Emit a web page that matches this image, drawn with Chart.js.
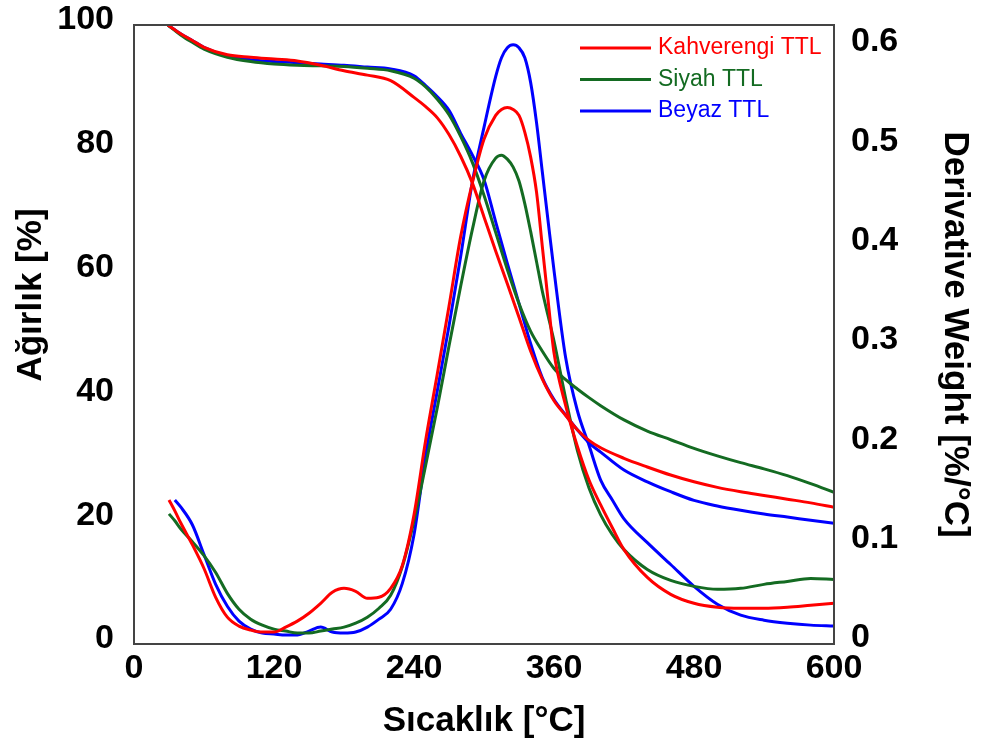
<!DOCTYPE html>
<html>
<head>
<meta charset="utf-8">
<script src="https://cdn.jsdelivr.net/npm/chart.js@4.4.1/dist/chart.umd.min.js"></script>
<style>
  html, body { margin: 0; padding: 0; background: #fff; }
  #wrap { width: 984px; height: 746px; }
</style>
</head>
<body>
<div id="wrap"><canvas id="grafik" width="984" height="746"></canvas></div>
<script>
// Örnek adları ve renkleri
var ornekler = ['Kahverengi TTL', 'Siyah TTL', 'Beyaz TTL'];
var renkler = ['#ff0000', '#146b22', '#0000ff'];

// TGA: sıcaklık (°C) ve ağırlık (%)
var tgaSicaklik = [29, 40, 50, 60, 80, 100, 120, 140, 160, 180, 200, 220, 240, 250, 260, 270, 280, 290, 300, 310, 320, 330, 340, 350, 360, 370, 380, 390, 400, 420, 440, 460, 480, 500, 520, 540, 560, 580, 600];
var tgaKahverengi = [100, 98.6, 97.5, 96.4, 95.2, 94.8, 94.5, 94.2, 93.5, 92.6, 91.9, 91.0, 88.3, 86.8, 85.0, 82.3, 78.8, 74.5, 69.0, 63.5, 58.2, 52.8, 47.3, 42.8, 39.3, 36.9, 34.6, 32.9, 31.7, 30.0, 28.6, 27.3, 26.2, 25.3, 24.6, 24.0, 23.4, 22.8, 22.1];
var tgaSiyah = [100, 98.4, 97.2, 96.1, 94.8, 94.1, 93.7, 93.5, 93.4, 93.3, 93.0, 92.6, 91.4, 90.0, 88.0, 85.5, 82.0, 77.8, 72.5, 66.5, 60.5, 55.0, 50.5, 47.3, 44.5, 42.7, 41.2, 39.8, 38.5, 36.2, 34.4, 33.0, 31.6, 30.4, 29.3, 28.3, 27.2, 25.9, 24.5];
var tgaBeyaz = [100, 98.6, 97.5, 96.4, 95.0, 94.4, 94.1, 93.9, 93.7, 93.5, 93.2, 92.9, 91.8, 90.2, 88.4, 86.2, 82.5, 79.0, 75.0, 68.2, 61.5, 55.0, 48.5, 43.0, 39.5, 37.0, 34.6, 32.5, 31.0, 28.1, 26.2, 24.6, 23.2, 22.3, 21.6, 21.0, 20.5, 20.0, 19.5];

// DTG: sıcaklık (°C) ve türev ağırlık (%/°C)
var dtgSicaklik = [30, 35, 40, 50, 60, 70, 80, 90, 100, 110, 120, 130, 140, 150, 160, 170, 180, 190, 200, 210, 220, 230, 240, 250, 260, 270, 280, 290, 300, 310, 315, 320, 325, 330, 335, 340, 345, 350, 355, 360, 370, 380, 390, 400, 410, 420, 440, 460, 480, 500, 520, 540, 560, 580, 600];
var dtgKahverengi = [0.145, 0.134, 0.122, 0.100, 0.076, 0.047, 0.027, 0.018, 0.014, 0.012, 0.012, 0.017, 0.023, 0.031, 0.041, 0.052, 0.056, 0.053, 0.046, 0.047, 0.056, 0.079, 0.130, 0.205, 0.272, 0.340, 0.410, 0.464, 0.508, 0.532, 0.538, 0.540, 0.538, 0.532, 0.515, 0.490, 0.455, 0.400, 0.345, 0.293, 0.240, 0.199, 0.165, 0.140, 0.117, 0.095, 0.067, 0.050, 0.041, 0.037, 0.036, 0.036, 0.037, 0.039, 0.041];
var dtgSiyah = [0.131, 0.124, 0.116, 0.103, 0.089, 0.072, 0.051, 0.035, 0.025, 0.019, 0.015, 0.013, 0.011, 0.011, 0.013, 0.015, 0.017, 0.021, 0.027, 0.036, 0.049, 0.078, 0.124, 0.180, 0.238, 0.300, 0.360, 0.417, 0.466, 0.489, 0.492, 0.488, 0.480, 0.466, 0.443, 0.415, 0.385, 0.355, 0.330, 0.305, 0.247, 0.195, 0.157, 0.130, 0.110, 0.095, 0.075, 0.064, 0.058, 0.055, 0.056, 0.060, 0.063, 0.066, 0.065];
var dtgBeyaz = [null, 0.145, 0.138, 0.120, 0.090, 0.060, 0.038, 0.023, 0.015, 0.011, 0.010, 0.009, 0.009, 0.013, 0.017, 0.012, 0.011, 0.012, 0.017, 0.025, 0.035, 0.061, 0.110, 0.190, 0.255, 0.320, 0.390, 0.465, 0.520, 0.571, 0.590, 0.600, 0.603, 0.600, 0.590, 0.565, 0.525, 0.475, 0.425, 0.376, 0.288, 0.235, 0.200, 0.165, 0.145, 0.126, 0.102, 0.080, 0.058, 0.040, 0.029, 0.024, 0.021, 0.019, 0.018];

// Eksen işaretleri
var xTikler = [0, 120, 240, 360, 480, 600];
var solTikler = [0, 20, 40, 60, 80, 100];
var sagTikler = [0, 0.1, 0.2, 0.3, 0.4, 0.5, 0.6];

var yazi = "'Liberation Sans', Arial, sans-serif";

function noktalar(sic, deg) {
  return sic.map(function (t, i) { return { x: t, y: deg[i] }; });
}

var tgaVeri = [tgaKahverengi, tgaSiyah, tgaBeyaz];
var dtgVeri = [dtgKahverengi, dtgSiyah, dtgBeyaz];
var datasets = [];
ornekler.forEach(function (ad, i) {
  datasets.push({ label: ad, data: noktalar(tgaSicaklik, tgaVeri[i]), yAxisID: 'y', borderColor: renkler[i] });
  datasets.push({ label: ad, data: noktalar(dtgSicaklik, dtgVeri[i]), yAxisID: 'y1', borderColor: renkler[i] });
});
datasets.forEach(function (d) {
  d.borderWidth = 3;
  d.pointRadius = 0;
  d.fill = false;
  d.cubicInterpolationMode = 'monotone';
});

// Çerçeve, sol eksen başlığı ve açıklama kutusu
var cizimler = {
  id: 'cizimler',
  afterDraw: function (chart) {
    var c = chart.ctx, a = chart.chartArea;
    c.save();
    c.strokeStyle = '#444';
    c.lineWidth = 2;
    c.strokeRect(a.left, a.top, a.right - a.left, a.bottom - a.top);

    // sol eksen başlığı
    c.fillStyle = '#000';
    c.font = 'bold 35px ' + yazi;
    c.textAlign = 'center';
    c.textBaseline = 'middle';
    c.translate(31, 295);
    c.rotate(-Math.PI / 2);
    c.fillText('Ağırlık [%]', 0, 0);
    c.restore();

    // açıklama
    c.save();
    c.font = '23px ' + yazi;
    c.textBaseline = 'middle';
    c.textAlign = 'left';
    ornekler.forEach(function (ad, i) {
      var y = 48 + i * 31.5;
      c.strokeStyle = renkler[i];
      c.lineWidth = 3;
      c.beginPath();
      c.moveTo(580, y);
      c.lineTo(651, y);
      c.stroke();
      c.fillStyle = renkler[i];
      c.fillText(ad, 658, y);
    });
    c.restore();
  }
};

function sabitTik(liste) {
  return function (scale) {
    scale.ticks = liste.map(function (v) { return { value: v }; });
  };
}

function dikeyGenislik(w) {
  return function (s) {
    s.width = w;
    s.paddingTop = 0;
    s.paddingBottom = 0;
  };
}

new Chart(document.getElementById('grafik').getContext('2d'), {
  type: 'line',
  data: { datasets: datasets },
  options: {
    responsive: false,
    animation: false,
    devicePixelRatio: 1,
    layout: { padding: { top: 25, left: 0, right: 0, bottom: 0 } },
    plugins: { legend: { display: false }, tooltip: { enabled: false } },
    scales: {
      x: {
        type: 'linear',
        min: 0, max: 600,
        grid: { display: false, drawTicks: false },
        border: { display: false },
        afterBuildTicks: sabitTik(xTikler),
        afterFit: function (s) { s.height = 102; s.paddingLeft = 0; s.paddingRight = 0; },
        ticks: { color: '#000', padding: 4, maxRotation: 0, font: { family: yazi, size: 34, weight: 'bold' } },
        title: { display: true, text: 'Sıcaklık [°C]', color: '#000', padding: { top: 0, bottom: 4 }, font: { family: yazi, size: 35, weight: 'bold' } }
      },
      y: {
        position: 'left',
        min: 0, max: 100,
        grid: { display: false, drawTicks: false },
        border: { display: false },
        afterBuildTicks: sabitTik(solTikler),
        afterFit: dikeyGenislik(134),
        ticks: { color: '#000', padding: 20, labelOffset: -5, font: { family: yazi, size: 34, weight: 'bold' } }
      },
      y1: {
        position: 'right',
        min: 0, max: 0.623,
        grid: { display: false, drawTicks: false },
        border: { display: false },
        afterBuildTicks: sabitTik(sagTikler),
        afterFit: dikeyGenislik(150),
        ticks: {
          color: '#000', padding: 17, labelOffset: -6,
          font: { family: yazi, size: 34, weight: 'bold' },
          callback: function (v) { return String(Math.round(v * 10) / 10); }
        },
        title: { display: true, text: 'Derivative Weight [%/°C]', color: '#000', padding: { top: 8, bottom: 0 }, font: { family: yazi, size: 35, weight: 'bold' } }
      }
    }
  },
  plugins: [cizimler]
});
</script>
</body>
</html>
